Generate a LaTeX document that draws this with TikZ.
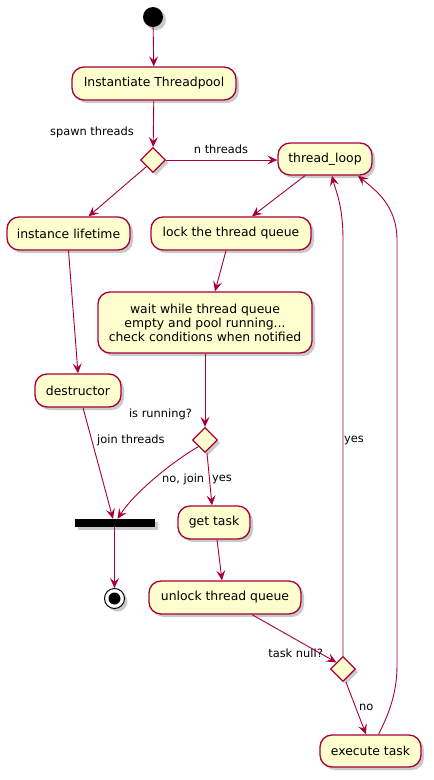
\documentclass[tikz,border=0pt]{standalone}
\usepackage{fontspec}
\setmainfont{DejaVu Sans}
\usetikzlibrary{shapes.geometric,shadows,arrows.meta,calc}
\definecolor{pumlfill}{HTML}{FEFECE}
\definecolor{pumlline}{HTML}{A80036}
\tikzset{
  shad/.style={drop shadow={shadow xshift=3pt,shadow yshift=-3pt,opacity=0.35,fill=black!60}},
  act/.style={draw=pumlline,fill=pumlfill,line width=1.3pt,rounded corners=12pt,
    shad,font=\fontsize{12.4}{14}\selectfont,align=center,inner sep=0pt},
  dec/.style={diamond,draw=pumlline,fill=pumlfill,line width=1.3pt,shad,
    minimum width=25pt,minimum height=25pt,inner sep=0pt,aspect=1},
  lbl/.style={font=\fontsize{11.4}{13}\selectfont,inner sep=0pt},
  flow/.style={draw=pumlline,line width=0.9pt,-{Stealth[length=10pt,width=9pt,inset=4pt]}},
}
\begin{document}
\begin{tikzpicture}[x=1pt,y=-1pt]
\useasboundingbox (0,0) rectangle (434,780);
% nodes
\node[circle,fill=black,minimum size=20pt,inner sep=0pt,shad] (start) at (153,17) {};
\node[act,minimum width=164pt,minimum height=33pt] (inst) at (154,83.5) {Instantiate Threadpool};
\node[dec] (d1) at (153,160) {};
\node[act,minimum width=94pt,minimum height=32pt] (tl) at (325,159) {thread\_loop};
\node[act,minimum width=123pt,minimum height=33pt] (il) at (68.5,233.5) {instance lifetime};
\node[act,minimum width=160pt,minimum height=33pt] (lock) at (231,233.5) {lock the thread queue};
\node[act,minimum width=214pt,minimum height=61pt] (wait) at (205,322.5) {wait while thread queue\\empty and pool running...\\check conditions when notified};
\node[act,minimum width=86pt,minimum height=33pt] (dest) at (78,390.5) {destructor};
\node[dec] (d2) at (205,440) {};
\node[rectangle,fill=black,minimum width=80pt,minimum height=8pt,inner sep=0pt,shad] (bar) at (114.5,523) {};
\node[act,minimum width=72pt,minimum height=33pt] (gt) at (214,522.5) {get task};
\node[circle,draw=black,line width=1pt,fill=white,minimum size=20pt,inner sep=0pt,shad] (end) at (114.5,598.5) {};
\node[circle,fill=black,minimum size=12pt,inner sep=0pt] (endin) at (end.center) {};
\node[act,minimum width=152pt,minimum height=33pt] (unl) at (225,597.5) {unlock thread queue};
\node[dec] (d3) at (343,669) {};
\node[act,minimum width=101pt,minimum height=32pt] (et) at (370.5,751) {execute task};
% labels
\node[lbl,anchor=east] (l1) at (134,132) {spawn threads};
\node[lbl] (l2) at (221,149) {n threads};
\node[lbl,anchor=east] (l3) at (192,414) {is running?};
\node[lbl,anchor=west] (l4) at (97,440) {join threads};
\node[lbl,anchor=west] (l5) at (162,479) {no, join};
\node[lbl,anchor=west] (l6) at (212,479) {yes};
\node[lbl,anchor=east] (l7) at (323,653) {task null?};
\node[lbl,anchor=west] (l8) at (344,440) {yes};
\node[lbl,anchor=west] (l9) at (359,707) {no};
% connectors
\draw[flow] (start) -- (inst);
\draw[flow] (inst) -- (d1);
\draw[flow] (d1.east) -- (tl.west |- d1.east);
\draw[flow] (d1.south west) -- ($(il.north)+(20,0)$);
\draw[flow] ($(tl.south)+(-20,0)$) -- ($(lock.north)+(21,0)$);
\draw[flow] (il.south) -- (dest.north);
\draw[flow] ($(lock.south)+(-5,0)$) -- ($(wait.north)+(10,0)$);
\draw[flow] (wait.south) -- (d2.north);
\draw[flow] ($(dest.south)+(5,0)$) -- ($(bar.north)+(-1.5,0)$);
\draw[flow] (d2.south west) .. controls (172,462) and (135,492) .. ($(bar.north)+(3,0)$);
\draw[flow] ($(d2.south)+(2,0)$) -- ($(gt.north)+(-2,0)$);
\draw[flow] (bar.south) -- (end.north);
\draw[flow] ($(gt.south)+(3,0)$) -- ($(unl.north)+(-3,0)$);
\draw[flow] ($(unl.south)+(27,0)$) -- (d3.north west);
\draw[flow] (d3.north) -- (343,240) .. controls (343,205) and (336,192) .. ($(tl.south)+(7,0)$);
\draw[flow] ($(d3.south)+(3,0)$) -- ($(et.north)+(-4.5,0)$);
\draw[flow] ($(et.north)+(8,0)$) .. controls (391,710) and (397,690) .. (397,665) -- (397,240) .. controls (397,205) and (375,190) .. ($(tl.south)+(33,0)$);
\end{tikzpicture}
\end{document}
